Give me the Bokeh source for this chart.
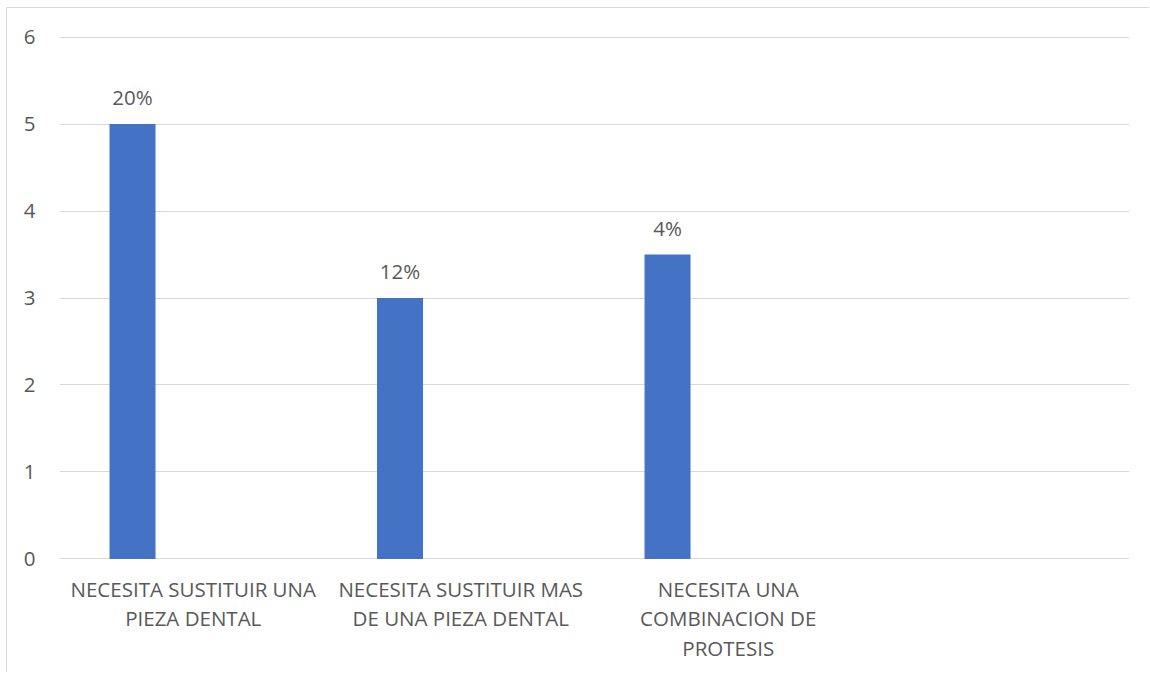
from bokeh.plotting import figure
from bokeh.models import FactorRange, FixedTicker, ColumnDataSource
from bokeh.transform import dodge
from bokeh.core.properties import value
from bokeh.embed import file_html
from bokeh.resources import INLINE

categories = ["NECESITA SUSTITUIR UNA\nPIEZA DENTAL",
              "NECESITA SUSTITUIR MAS\nDE UNA PIEZA DENTAL",
              "NECESITA UNA\nCOMBINACION DE\nPROTESIS",
              " "]
bar_values = [5, 3, 3.5]
bar_labels = ["20%", "12%", "4%"]
y_ticks = [0, 1, 2, 3, 4, 5, 6]

FONT = "Open Sans"
TXT = "#595959"

p = figure(x_range=FactorRange(factors=categories, range_padding=0),
           y_range=(-0.006, 6.006), width=1143, height=665,
           output_backend="svg", toolbar_location=None,
           min_border_left=52, min_border_right=21, min_border_top=28, min_border_bottom=114)
p.styles = {"border-left": "1px solid #d9d9d9", "border-top": "1px solid #d9d9d9",
            "margin-left": "6px", "margin-top": "7px"}
p.outline_line_color = None
p.background_fill_color = "white"

src = ColumnDataSource(dict(cat=categories[:3], val=bar_values, lab=bar_labels))
p.vbar(x=dodge("cat", -0.227, range=p.x_range), top="val", bottom=0, width=0.172,
       source=src, fill_color="#4472C4", line_color=None)
p.text(x=dodge("cat", -0.227, range=p.x_range), y="val", text="lab", source=src,
       text_align="center", text_baseline="bottom", y_offset=-13,
       text_font=value(FONT), text_font_size="20.5px", text_color=TXT)

p.xgrid.grid_line_color = None
p.ygrid.grid_line_color = "#d9d9d9"
p.ygrid.grid_line_width = 1
p.yaxis.ticker = FixedTicker(ticks=y_ticks)

for ax in (p.xaxis, p.yaxis):
    ax.axis_line_color = None
    ax.major_tick_line_color = None
    ax.minor_tick_line_color = None
    ax.major_label_text_font = FONT
    ax.major_label_text_font_size = "20.5px"
    ax.major_label_text_color = TXT
p.xaxis.major_label_text_line_height = 1.06
p.xaxis.major_label_standoff = 9
p.yaxis.major_label_standoff = 18

open("out.html", "w").write(file_html(p, INLINE))
